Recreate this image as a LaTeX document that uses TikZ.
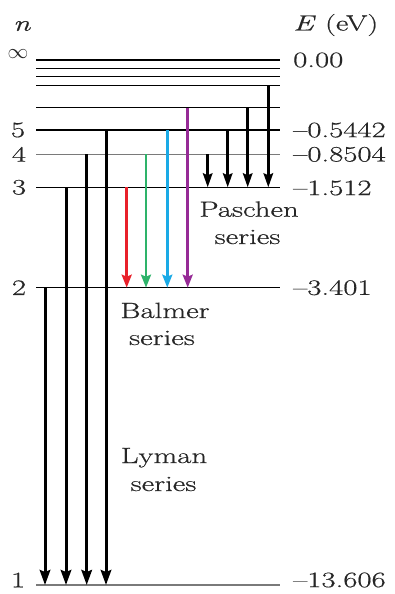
\documentclass[tikz,border=0pt]{standalone}
\usepackage{fontspec}
\setmainfont{Latin Modern Roman}[FakeStretch=1.4,FakeBold=0.6]
\usetikzlibrary{arrows.meta}
\definecolor{ink}{HTML}{262626}
\definecolor{levelgray}{HTML}{7A7A7A}
\definecolor{hred}{HTML}{E8202A}
\definecolor{hgreen}{HTML}{2EB36A}
\definecolor{hblue}{HTML}{1AAAE6}
\definecolor{hviolet}{HTML}{962A96}
\begin{document}
\begin{tikzpicture}[x=1pt,y=-1pt,
  level/.style={line width=1.4pt, black},
  txt/.style={font=\fontsize{22}{24}\selectfont, text=ink, inner sep=0pt},
  lyman/.style={-{Stealth[length=15pt,width=10.5pt,inset=2pt]}, line width=3pt, black},
  balmer/.style={-{Stealth[length=13pt,width=10pt,inset=2pt]}, line width=2.6pt},
  paschen/.style={-{Stealth[length=14pt,width=9.5pt,inset=2pt]}, line width=2.6pt, black}]
\useasboundingbox (0,0) rectangle (394,594);

% energy levels
\draw[level, line width=2.2pt] (36,60) coordinate (Linf) -- (280,60) coordinate (Rinf);
\foreach \yy in {68.3,76.3,85.3,107.7}
  \draw[level, line width=1.3pt] (36,\yy) -- (280,\yy);
\draw[level] (36,130) -- (280,130);
\draw[level, levelgray] (36,154.3) -- (280,154.3);
\draw[level] (36,187.3) -- (280,187.3);
\draw[level, line width=1.3pt] (36,287.7) -- (280,287.7);
\draw[level, levelgray, line width=1.6pt] (36,585) -- (280,585);

% transition end points
\coordinate (a7) at (268.3,85.3);
\coordinate (a6p) at (247.7,107.7);
\coordinate (a5p) at (227.7,130);
\coordinate (a4p) at (207.7,154.3);
\coordinate (b6) at (187.7,107.7);
\coordinate (b5) at (167.3,130);
\coordinate (b4) at (146,154.3);
\coordinate (b3) at (126.7,187.3);
\coordinate (l5) at (106,130);
\coordinate (l4) at (86.7,154.3);
\coordinate (l3) at (66,187.3);
\coordinate (l2) at (45,287.7);

% Lyman series (to n = 1)
\draw[lyman] (l2) -- (l2 |- 0,585);
\draw[lyman] (l3) -- (l3 |- 0,585);
\draw[lyman] (l4) -- (l4 |- 0,585);
\draw[lyman] (l5) -- (l5 |- 0,585);

% Balmer series (to n = 2)
\draw[balmer, hred]    (b3) -- (b3 |- 0,287.7);
\draw[balmer, hgreen]  (b4) -- (b4 |- 0,287.7);
\draw[balmer, hblue]   (b5) -- (b5 |- 0,287.7);
\draw[balmer, hviolet] (b6) -- (b6 |- 0,287.7);

% Paschen series (to n = 3)
\draw[paschen] (a4p) -- (a4p |- 0,187.3);
\draw[paschen] (a5p) -- (a5p |- 0,187.3);
\draw[paschen] (a6p) -- (a6p |- 0,187.3);
\draw[paschen] (a7)  -- (a7 |- 0,187.3);

% quantum numbers
\node[txt] (nlab) at (22,26) {\textit{n}};
\node[txt] (ninf) at (18,54) {$\infty$};
\node[txt] (n5) at (18,130) {5};
\node[txt] (n4) at (19,154.3) {4};
\node[txt] (n3) at (19,187.3) {3};
\node[txt] (n2) at (19,287.7) {2};
\node[txt] (n1) at (18,580) {1};

% energies
\node[txt, anchor=west] (elab) at (293,25) {\textit{E} (eV)};
\node[txt, anchor=west] (e0) at (293,60) {0.00};
\node[txt, anchor=west] (e5) at (293,130) {–0.5442};
\node[txt, anchor=west] (e4) at (293,154.3) {–0.8504};
\node[txt, anchor=west] (e3) at (293,188) {–1.512};
\node[txt, anchor=west] (e2) at (293,287.7) {–3.401};
\node[txt, anchor=west] (e1) at (293,580) {–13.606};

% series names
\node[txt, anchor=base] (pas1) at (249,216.7) {Paschen};
\node[txt, anchor=base] (pas2) at (247.5,244) {series};
\node[txt, anchor=base] (bal1) at (165,318) {Balmer};
\node[txt, anchor=base] (bal2) at (162,345) {series};
\node[txt, anchor=base] (lym1) at (164,463) {Lyman};
\node[txt, anchor=base] (lym2) at (163.5,491) {series};
\end{tikzpicture}
\end{document}
